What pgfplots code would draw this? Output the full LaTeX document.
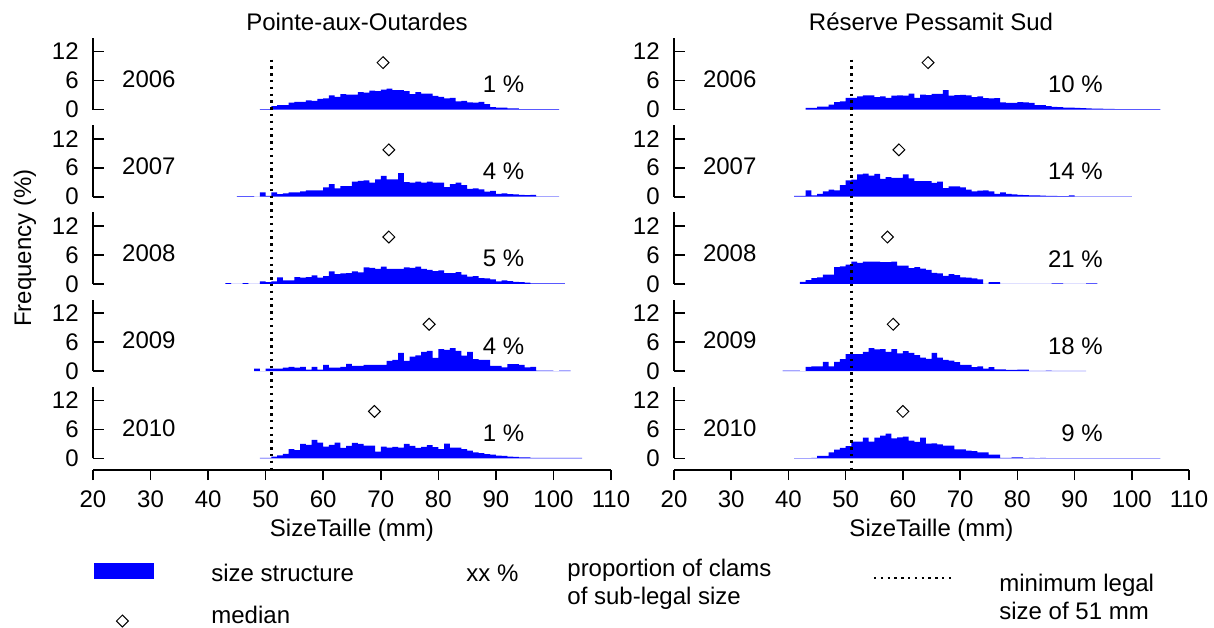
\documentclass[border=0pt]{standalone}
\usepackage{pgfplots}
\usepackage{pgfplotstable}
\pgfplotsset{compat=1.18}
\usepackage{fontspec}
\setmainfont{Liberation Sans}

\definecolor{histblue}{RGB}{0,0,255}
\newcommand{\lbl}{\fontsize{12}{14}\selectfont}

% size-frequency tables: left edge of each 1 mm class, frequency (%)
% (last row closes the final class)
\pgfplotstableread[row sep=\\]{x y\\
49 0.1\\50 0.1\\51 0.7\\52 0.9\\53 0.9\\54 1.4\\55 1.6\\56 1.6\\57 1.9\\58 1.8\\59 2.2\\60 2.3\\61 2.9\\62 2.6\\63 3.2\\64 3.1\\65 3.1\\66 3.6\\67 3.5\\68 3.9\\69 3.8\\70 4.1\\71 4.3\\72 4.0\\73 4.0\\74 3.8\\75 3.2\\76 3.6\\77 3.3\\78 3.3\\79 2.8\\80 2.6\\81 2.3\\82 2.4\\83 1.7\\84 1.8\\85 1.5\\86 1.4\\87 1.6\\88 1.1\\89 0.5\\90 0.4\\91 0.4\\92 0.25\\93 0.25\\94 0.1\\95 0.1\\96 0.1\\97 0.1\\98 0.1\\99 0.1\\100 0.1\\101 0.1\\
}\LA
\pgfplotstableread[row sep=\\]{x y\\
45 0.1\\46 0.1\\47 0.1\\48 0\\49 0.9\\50 0.15\\51 0.9\\52 0.55\\53 0.7\\54 0.9\\55 0.9\\56 1.1\\57 1.3\\58 1.3\\59 1.3\\60 1.95\\61 2.6\\62 1.75\\63 2.2\\64 2.2\\65 3.1\\66 3.3\\67 3.4\\68 2.9\\69 3.6\\70 4.3\\71 3.6\\72 3.6\\73 4.9\\74 3.0\\75 2.9\\76 3.1\\77 2.9\\78 3.1\\79 2.9\\80 2.9\\81 2.0\\82 2.6\\83 2.9\\84 2.4\\85 1.6\\86 1.7\\87 1.5\\88 1.05\\89 1.2\\90 0.6\\91 0.7\\92 0.55\\93 0.5\\94 0.4\\95 0.35\\96 0.4\\97 0.05\\98 0.05\\99 0.05\\100 0.05\\101 0.05\\
}\LB
\pgfplotstableread[row sep=\\]{x y\\
43 0.15\\44 0\\45 0\\46 0.15\\47 0\\48 0\\49 0.5\\50 0.35\\51 0.5\\52 1.35\\53 0.75\\54 0.75\\55 1.4\\56 1.3\\57 1.4\\58 1.75\\59 1.3\\60 1.6\\61 2.6\\62 2.0\\63 2.2\\64 2.25\\65 2.6\\66 2.4\\67 3.4\\68 3.3\\69 3.1\\70 3.6\\71 3.1\\72 3.1\\73 3.1\\74 3.4\\75 3.3\\76 3.6\\77 3.1\\78 2.9\\79 2.65\\80 2.8\\81 2.25\\82 2.25\\83 2.45\\84 1.9\\85 1.5\\86 1.6\\87 1.2\\88 1.15\\89 0.95\\90 0.55\\91 0.75\\92 0.6\\93 0.4\\94 0.35\\95 0.25\\96 0.1\\97 0.1\\98 0.1\\99 0.1\\100 0.1\\101 0.1\\102 0.1\\
}\LC
\pgfplotstableread[row sep=\\]{x y\\
48 0.5\\49 0\\50 0.5\\51 0.5\\52 0.5\\53 0.7\\54 0.9\\55 0.7\\56 0.9\\57 0.3\\58 0.9\\59 0.3\\60 1.3\\61 0.7\\62 0.7\\63 0.9\\64 1.5\\65 1.1\\66 1.1\\67 1.3\\68 1.3\\69 1.3\\70 1.3\\71 2.1\\72 2.35\\73 3.8\\74 2.1\\75 3.0\\76 3.25\\77 4.0\\78 4.2\\79 2.75\\80 4.55\\81 4.4\\82 4.75\\83 4.2\\84 3.2\\85 4.0\\86 2.5\\87 2.35\\88 2.35\\89 1.1\\90 1.1\\91 0.75\\92 1.45\\93 1.45\\94 1.3\\95 0.75\\96 0.9\\97 0.1\\98 0.1\\99 0.1\\100 0\\101 0.1\\102 0.1\\103 0.1\\
}\LD
\pgfplotstableread[row sep=\\]{x y\\
49 0.1\\50 0.1\\51 0.35\\52 0.6\\53 0.9\\54 1.9\\55 1.7\\56 3.0\\57 2.8\\58 3.8\\59 3.25\\60 2.4\\61 2.8\\62 3.25\\63 2.15\\64 2.55\\65 3.2\\66 3.0\\67 2.6\\68 2.6\\69 1.4\\70 2.4\\71 2.2\\72 2.35\\73 2.2\\74 3.0\\75 2.55\\76 2.15\\77 2.35\\78 2.75\\79 2.3\\80 1.9\\81 3.05\\82 2.2\\83 2.2\\84 1.9\\85 1.6\\86 1.25\\87 1.05\\88 0.85\\89 0.75\\90 0.55\\91 0.5\\92 0.35\\93 0.3\\94 0.2\\95 0.2\\96 0.1\\97 0.1\\98 0.1\\99 0.1\\100 0.1\\101 0.1\\102 0.1\\103 0.1\\104 0.1\\105 0.1\\
}\LE
\pgfplotstableread[row sep=\\]{x y\\
43 0.35\\44 0.35\\45 0.6\\46 0.6\\47 1.0\\48 1.55\\49 1.7\\50 2.4\\51 2.4\\52 2.7\\53 2.9\\54 2.9\\55 2.55\\56 2.7\\57 2.4\\58 2.85\\59 2.9\\60 2.85\\61 3.3\\62 2.4\\63 3.1\\64 3.0\\65 3.25\\66 3.25\\67 4.0\\68 2.85\\69 3.0\\70 3.05\\71 2.9\\72 2.55\\73 2.7\\74 2.35\\75 2.3\\76 2.35\\77 1.5\\78 1.35\\79 1.35\\80 1.55\\81 1.5\\82 1.35\\83 0.9\\84 0.9\\85 0.7\\86 0.55\\87 0.5\\88 0.4\\89 0.4\\90 0.35\\91 0.3\\92 0.25\\93 0.2\\94 0.2\\95 0.15\\96 0.15\\97 0.1\\98 0.1\\99 0.1\\100 0.1\\101 0.1\\102 0.1\\103 0.1\\104 0.1\\105 0.1\\
}\RA
\pgfplotstableread[row sep=\\]{x y\\
41 0.15\\42 0.15\\43 1.3\\44 0.3\\45 0.6\\46 1.1\\47 1.45\\48 1.3\\49 2.4\\50 3.4\\51 3.55\\52 4.6\\53 4.8\\54 4.35\\55 4.7\\56 3.7\\57 4.05\\58 3.9\\59 3.9\\60 4.6\\61 3.8\\62 3.2\\63 3.2\\64 3.2\\65 2.85\\66 3.1\\67 1.8\\68 2.15\\69 2.15\\70 1.95\\71 1.45\\72 1.1\\73 1.25\\74 1.3\\75 1.1\\76 0.6\\77 0.9\\78 0.6\\79 0.5\\80 0.4\\81 0.35\\82 0.3\\83 0.25\\84 0.2\\85 0.15\\86 0.15\\87 0.1\\88 0.1\\89 0.3\\90 0.05\\91 0.05\\92 0.05\\93 0.05\\94 0.05\\95 0.05\\96 0.05\\97 0.05\\98 0.05\\99 0.05\\100 0.05\\
}\RB
\pgfplotstableread[row sep=\\]{x y\\
42 0.4\\43 0.8\\44 1.2\\45 1.35\\46 1.9\\47 1.9\\48 3.45\\49 3.65\\50 4.0\\51 4.6\\52 4.35\\53 4.6\\54 4.6\\55 4.6\\56 4.5\\57 4.5\\58 4.6\\59 3.8\\60 3.8\\61 3.25\\62 3.45\\63 3.15\\64 2.9\\65 2.3\\66 2.2\\67 1.65\\68 2.0\\69 1.8\\70 1.35\\71 1.3\\72 1.15\\73 0.95\\74 0\\75 0.35\\76 0.35\\77 0\\78 0\\79 0\\80 0\\81 0\\82 0\\83 0\\84 0\\85 0\\86 0.1\\87 0.1\\88 0\\89 0\\90 0\\91 0\\92 0.1\\93 0.1\\94 0.1\\
}\RC
\pgfplotstableread[row sep=\\]{x y\\
39 0.08\\40 0.08\\41 0.08\\42 0\\43 0.9\\44 1.0\\45 1.0\\46 1.9\\47 1.0\\48 1.9\\49 2.5\\50 3.5\\51 3.5\\52 3.5\\53 4.0\\54 4.75\\55 4.5\\56 4.55\\57 4.0\\58 4.55\\59 3.65\\60 4.15\\61 3.8\\62 3.3\\63 2.8\\64 2.55\\65 3.8\\66 2.8\\67 2.3\\68 2.15\\69 1.85\\70 1.3\\71 1.3\\72 0.8\\73 1.0\\74 0.5\\75 0.8\\76 0.35\\77 0.35\\78 0.25\\79 0.25\\80 0.3\\81 0.3\\82 0.05\\83 0.05\\84 0.05\\85 0.1\\86 0.05\\87 0.05\\88 0.05\\89 0.05\\90 0.05\\91 0.05\\92 0.05\\
}\RD
\pgfplotstableread[row sep=\\]{x y\\
41 0.05\\42 0.05\\43 0.05\\44 0.1\\45 0.5\\46 0.5\\47 1.25\\48 1.8\\49 2.15\\50 2.5\\51 3.45\\52 3.45\\53 4.3\\54 3.45\\55 4.3\\56 4.7\\57 5.1\\58 4.15\\59 4.35\\60 4.5\\61 3.65\\62 3.4\\63 4.3\\64 3.05\\65 3.1\\66 2.9\\67 2.6\\68 2.6\\69 1.85\\70 1.85\\71 1.6\\72 1.5\\73 1.25\\74 1.25\\75 0.75\\76 0.75\\77 0.1\\78 0.1\\79 0.2\\80 0.2\\81 0.05\\82 0.1\\83 0.05\\84 0.1\\85 0.05\\86 0.05\\87 0.05\\88 0.05\\89 0.05\\90 0.05\\91 0.05\\92 0.05\\93 0.05\\94 0.05\\95 0.05\\96 0.05\\97 0.05\\98 0.05\\99 0.05\\100 0.05\\101 0.05\\102 0.05\\103 0.05\\104 0.05\\105 0.05\\
}\RE

\pgfplotsset{
  panel/.style={
    scale only axis, height=35.75pt,
    xmin=20, xmax=110, ymin=0, ymax=14.8,
    axis x line=none, axis y line*=left,
    xtick=\empty, ytick={0,6,12},
    tick align=inside, major tick length=5.5pt,
    y axis line style={line width=0.8pt, black},
    ytick style={line width=0.8pt, black},
    yticklabel style={anchor=east, inner sep=0pt, xshift=-7pt, font=\lbl},
    /pgf/number format/assume math mode=true,
    clip=false, anchor=south west,
  },
  frame/.style={
    scale only axis, height=205.25pt,
    xmin=20, xmax=110, ymin=-470, ymax=-59.5,
    axis x line*=bottom, axis y line=none, ytick=\empty,
    xtick={20,30,...,110}, tick align=outside, major tick length=5pt,
    x axis line style={line width=0.8pt, black},
    xtick style={line width=0.8pt, black},
    xticklabel style={anchor=north, inner sep=0pt, yshift=-5pt, font=\lbl},
    /pgf/number format/assume math mode=true,
    clip=false, anchor=south west,
  },
  legal/.style={black, line width=1.3pt, dash pattern=on 1.2pt off 2.2pt},
  med/.style={only marks, mark=square, mark size=2.1pt,
    mark options={rotate=45, fill=white, draw=black, line width=0.5pt}},
}

% #1 left edge (px), #2 baseline (px), #3 width, #4 table, #5 year, #6 median, #7 sub-legal share
\newcommand{\panel}[7]{%
  \begin{axis}[panel, at={(#1*0.5pt,-#2*0.5pt)}, width=#3]
    \addplot[fill=histblue, draw=none, const plot mark left] table[x=x,y=y] {#4} \closedcycle;
    \addplot[med] coordinates {(#6,9.7)};
    \node[anchor=west, inner sep=0pt, font=\lbl] at (axis cs:25,6.3) {#5};
    \node[anchor=east, inner sep=0pt, font=\lbl] at (axis cs:95,5.2) {#7};
  \end{axis}}

\begin{document}
\begin{tikzpicture}[font=\lbl]
\useasboundingbox (0,0) rectangle (607pt,-313.5pt);

% Pointe-aux-Outardes
\panel{93}{109.5}{259pt}{\LA}{2006}{70.4}{1 \%}
\panel{93}{196.7}{259pt}{\LB}{2007}{71.4}{4 \%}
\panel{93}{283.9}{259pt}{\LC}{2008}{71.4}{5 \%}
\panel{93}{371.1}{259pt}{\LD}{2009}{78.4}{4 \%}
\panel{93}{458.3}{259pt}{\LE}{2010}{68.9}{1 \%}

% Reserve Pessamit Sud
\panel{674}{109.5}{257.5pt}{\RA}{2006}{64.4}{10 \%}
\panel{674}{196.7}{257.5pt}{\RB}{2007}{59.3}{14 \%}
\panel{674}{283.9}{257.5pt}{\RC}{2008}{57.3}{21 \%}
\panel{674}{371.1}{257.5pt}{\RD}{2009}{58.3}{18 \%}
\panel{674}{458.3}{257.5pt}{\RE}{2010}{60.0}{9 \%}

% shared size axes and the 51 mm legal limit
\begin{axis}[frame, at={(46.5pt,-235pt)}, width=259pt]
  \addplot[legal] coordinates {(51,-59.5) (51,-469)};
  \node at (axis cs:65,-530.7) {SizeTaille (mm)};
\end{axis}
\begin{axis}[frame, at={(337pt,-235pt)}, width=257.5pt]
  \addplot[legal] coordinates {(51,-59.5) (51,-469)};
  \node at (axis cs:65,-530.7) {SizeTaille (mm)};
\end{axis}

% titles, y label and key
\begin{axis}[scale only axis, width=607pt, height=313.5pt, at={(0pt,0pt)}, anchor=north west,
  xmin=0, xmax=1214, ymin=-627, ymax=0, hide axis, clip=false]
  \node at (axis cs:357,-22) {Pointe-aux-Outardes};
  \node at (axis cs:931,-22) {Réserve Pessamit Sud};
  \node[rotate=90] at (axis cs:25,-248) {Frequency (\%)};
  \addplot[fill=histblue, draw=none] coordinates {(94,-563) (154,-563) (154,-579) (94,-579)} -- cycle;
  \node[anchor=west, inner sep=0pt] at (axis cs:211,-573) {size structure};
  \addplot[med] coordinates {(122.4,-621)};
  \node[anchor=west, inner sep=0pt] at (axis cs:211,-615) {median};
  \node[anchor=west, inner sep=0pt] at (axis cs:466,-573) {xx \%};
  \node[anchor=north west, inner sep=0pt, align=left] at (axis cs:567,-559) {proportion of clams\\of sub-legal size};
  \addplot[legal] coordinates {(874,-578) (954,-578)};
  \node[anchor=north west, inner sep=0pt, align=left] at (axis cs:999,-574) {minimum legal\\size of 51 mm};
\end{axis}
\end{tikzpicture}
\end{document}
